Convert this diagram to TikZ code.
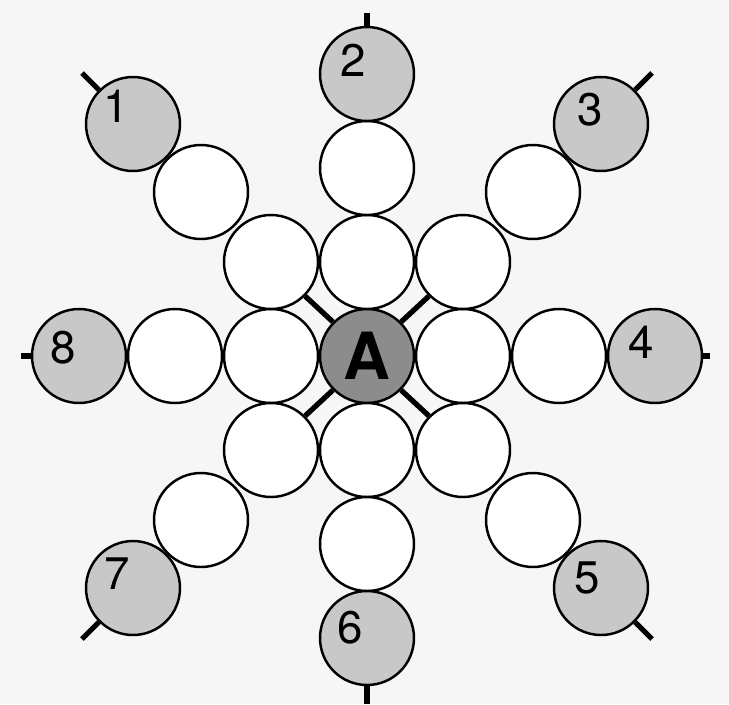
\documentclass[tikz,border=0pt]{standalone}
\usepackage{fontspec}
\setsansfont{TeX Gyre Heros}
\usepackage{tikz}
\usepackage{xcolor}
\definecolor{numgray}{RGB}{200,200,200}
\definecolor{hubgray}{RGB}{140,140,140}
\definecolor{paper}{RGB}{246,246,246}
\tikzstyle{ball} = [circle, minimum size=1.88cm, inner sep=0pt, draw=black, line width=1.4pt, fill=white]
\tikzstyle{numball} = [ball, fill=numgray]
\tikzstyle{hub} = [ball, fill=hubgray, font=\sffamily\bfseries\fontsize{37}{37}\selectfont]
\tikzstyle{num} = [inner sep=0pt, font=\sffamily\fontsize{26}{26}\selectfont]
\tikzstyle{spoke} = [line width=3pt]

\begin{document}
\begin{tikzpicture}[x=0.02cm, y=-0.02cm]
			\useasboundingbox [fill=paper] (0,0) rectangle (729,704);
			
			\node(A) at (367,356) [hub] {A};
			% straight arms
			\node(u1) at (367,262) [ball] {};
			\node(u2) at (367,168) [ball] {};
			\node(n2) at (367,74) [numball] {};
			\node(d1) at (367,450) [ball] {};
			\node(d2) at (367,544) [ball] {};
			\node(n6) at (367,638) [numball] {};
			\node(w1) at (271,356) [ball] {};
			\node(w2) at (175,356) [ball] {};
			\node(n8) at (79,356) [numball] {};
			\node(e1) at (463,356) [ball] {};
			\node(e2) at (559,356) [ball] {};
			\node(n4) at (655,356) [numball] {};
			% diagonal arms
			\node(uw1) at (271,262) [ball] {};
			\node(uw2) at (201,192) [ball] {};
			\node(n1) at (133,124) [numball] {};
			\node(ue1) at (463,262) [ball] {};
			\node(ue2) at (533,192) [ball] {};
			\node(n3) at (601,124) [numball] {};
			\node(de1) at (463,450) [ball] {};
			\node(de2) at (533,520) [ball] {};
			\node(n5) at (601,588) [numball] {};
			\node(dw1) at (271,450) [ball] {};
			\node(dw2) at (201,520) [ball] {};
			\node(n7) at (133,588) [numball] {};
			% numbers
			\node(l1) at (116,106) [num] {1};
			\node(l2) at (353,60) [num] {2};
			\node(l3) at (590,110) [num] {3};
			\node(l4) at (641,342) [num] {4};
			\node(l5) at (587,578) [num] {5};
			\node(l6) at (350,628) [num] {6};
			\node(l7) at (117,574) [num] {7};
			\node(l8) at (63,348) [num] {8};
			% ends
			\coordinate(t1) at (82,73);
			\coordinate(t2) at (367,13);
			\coordinate(t3) at (652,73);
			\coordinate(t4) at (710,356);
			\coordinate(t5) at (652,639);
			\coordinate(t6) at (367,704);
			\coordinate(t7) at (82,639);
			\coordinate(t8) at (21,356);
			\draw [spoke] (A.north west) -- (uw1.south east);
			\draw [spoke] (A.north east) -- (ue1.south west);
			\draw [spoke] (A.south east) -- (de1.north west);
			\draw [spoke] (A.south west) -- (dw1.north east);
			\draw [spoke] (n1.north west) -- (t1);
			\draw [spoke] (n2.north) -- (t2);
			\draw [spoke] (n3.north east) -- (t3);
			\draw [spoke] (n4.east) -- (t4);
			\draw [spoke] (n5.south east) -- (t5);
			\draw [spoke] (n6.south) -- (t6);
			\draw [spoke] (n7.south west) -- (t7);
			\draw [spoke] (n8.west) -- (t8);
		\end{tikzpicture}
\end{document}
